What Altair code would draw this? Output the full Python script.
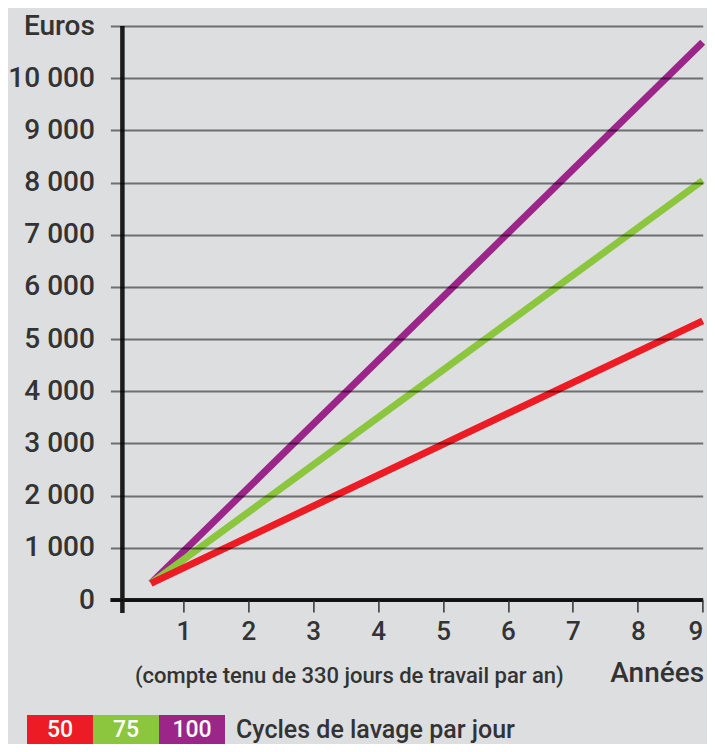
import altair as alt
import pandas as pd

# ---- data ----
years = [0.5, 9.0]
cycles = ["50", "75", "100"]
euros_50 = [320, 5350]
euros_75 = [320, 8040]
euros_100 = [320, 10690]
colors = ["#ed1c24", "#8cc63f", "#9b2589"]
y_ticks = [0, 1000, 2000, 3000, 4000, 5000, 6000, 7000, 8000, 9000, 10000, 11000]
x_ticks = [1, 2, 3, 4, 5, 6, 7, 8, 9]
y_title = "Euros"
x_title = "Années"
x_note = "(compte tenu de 330 jours de travail par an)"
legend_title = "Cycles de lavage par jour"

FONT = "Roboto"
FW = 500
TXT = "#333333"
BG = "#dddee0"

rows = []
for c, vals in zip(cycles, [euros_50, euros_75, euros_100]):
    for x, v in zip(years, vals):
        rows.append({"cycles": c, "annee": x, "euros": v})
df = pd.DataFrame(rows)

W, H = 580.3, 574

x_scale = alt.Scale(domain=[0.06, 9.0], nice=False, zero=False)
y_scale = alt.Scale(domain=[0, 11000], nice=False, zero=True)
color_scale = alt.Scale(domain=cycles, range=colors)

x_enc = alt.X(
    "annee:Q", scale=x_scale,
    axis=alt.Axis(values=x_ticks, title=None, grid=False, domain=False,
                  tickSize=12, tickColor="#333", tickWidth=1.5,
                  labelFontSize=26, labelColor=TXT, labelFont=FONT, labelFontWeight=FW,
                  labelPadding=6, labelFlush=True, labelFlushOffset=0,
                  labelOverlap=False, zindex=1),
)
y_enc = alt.Y(
    "euros:Q", scale=y_scale,
    axis=alt.Axis(values=y_ticks, title=None, grid=True, gridColor="#000",
                  gridOpacity=0.5, gridWidth=2, domain=False,
                  tickSize=12, tickColor="#000", tickOpacity=0.5, tickWidth=2,
                  labelFontSize=28, labelColor=TXT, labelFont=FONT, labelFontWeight=FW,
                  labelPadding=16, labelOverlap=False, labelFlush=False,
                  labelExpr=f"datum.value == 11000 ? '{y_title}' : replace(format(datum.value, ',d'), ',', ' ')",
                  zindex=1),
)
col_enc = alt.Color("cycles:N", scale=color_scale, legend=None)

base = alt.Chart(df)
line_layers = []
for c in ["100", "75", "50"]:
    line_layers.append(
        base.transform_filter(alt.datum.cycles == c)
        .mark_line(strokeWidth=7, strokeCap="butt")
        .encode(x=x_enc, y=y_enc, color=col_enc)
    )

one = pd.DataFrame({"k": [0]})
yaxis_line = alt.Chart(one).mark_rule(color="#1c1c1c", strokeWidth=4.5).encode(
    x=alt.value(0), y=alt.value(0), y2=alt.value(H + 13))
xaxis_line = alt.Chart(one).mark_rule(color="#1c1c1c", strokeWidth=4).encode(
    x=alt.value(-12), x2=alt.value(W + 0.5), y=alt.value(H))

note = alt.Chart(pd.DataFrame({"t": [x_note]})).mark_text(
    font=FONT, fontSize=22, fontWeight=FW, color=TXT, align="left", baseline="middle").encode(
    text="t:N", x=alt.value(12.6), y=alt.value(650))
xt = alt.Chart(pd.DataFrame({"t": [x_title]})).mark_text(
    font=FONT, fontSize=28, fontWeight=FW, color=TXT, align="right", baseline="middle").encode(
    text="t:N", x=alt.value(W + 1.5), y=alt.value(648))

# legend boxes
box_w = 66
leg_x0 = -95.4
leg = pd.DataFrame({"cycles": cycles})
leg["bx"] = [leg_x0 + i * box_w for i in range(len(cycles))]
leg["bx2"] = leg["bx"] + box_w
leg["tx"] = leg["bx"] + box_w / 2
boxes = alt.Chart(leg).mark_rect().encode(
    x=alt.X("bx:Q", scale=None), x2="bx2:Q",
    y=alt.value(689), y2=alt.value(726), color=col_enc)
box_txt = alt.Chart(leg).mark_text(
    font=FONT, fontSize=23, fontWeight=FW, color="white", baseline="middle", align="center").encode(
    x=alt.X("tx:Q", scale=None), y=alt.value(704), text="cycles:N")
leg_title = alt.Chart(pd.DataFrame({"t": [legend_title]})).mark_text(
    font=FONT, fontSize=25, fontWeight=FW, color=TXT, align="left", baseline="middle").encode(
    text="t:N", x=alt.value(113.6), y=alt.value(704))

chart = alt.layer(
    *line_layers, yaxis_line, xaxis_line, note, xt, boxes, box_txt, leg_title
).resolve_scale(x="shared", y="shared").properties(
    width=W, height=H, background=BG,
    padding={"left": 114.4, "top": 18, "right": 4.3, "bottom": 144},
    autosize=alt.AutoSizeParams(type="none"),
).configure_view(stroke=None)

chart.save("out.html", embed_options={"renderer": "svg", "actions": False})
